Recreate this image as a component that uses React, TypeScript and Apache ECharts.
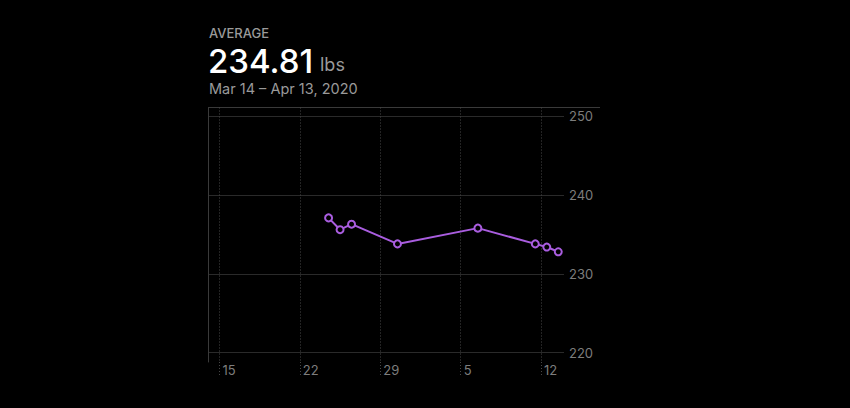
import React, { useEffect, useRef } from "react";
import * as echarts from "echarts";

// ---- data ----
const rangeStart = "2020-03-14";
const rangeEndExclusive = "2020-04-14";
const pointDates = [
  "2020-03-24",
  "2020-03-25",
  "2020-03-26",
  "2020-03-30",
  "2020-04-06",
  "2020-04-11",
  "2020-04-12",
  "2020-04-13",
];
const weights = [237.1, 235.6, 236.3, 233.8, 235.8, 233.8, 233.4, 232.8];
const tickDates = ["2020-03-15", "2020-03-22", "2020-03-29", "2020-04-05", "2020-04-12"];
const tickLabels = ["15", "22", "29", "5", "12"];
const yTicks = [220, 230, 240, 250];
const headerLabel = "AVERAGE";
const averageValue = "234.81";
const unitLabel = "lbs";
const rangeLabel = "Mar 14 – Apr 13, 2020";

const DAY = 86400000;
const dayOffset = (d: string) =>
  (Date.parse(d + "T00:00:00Z") - Date.parse(rangeStart + "T00:00:00Z")) / DAY;

const FONT = "Inter, 'Noto Sans', sans-serif";
const PURPLE = "#a95ddf";

export default function App() {
  const ref = useRef<HTMLDivElement>(null);
  useEffect(() => {
    if (!ref.current) return;
    const chart = echarts.init(ref.current, undefined, { renderer: "svg" });
    const tickVals = tickDates.map(dayOffset);
    const seriesData = pointDates.map((d, i) => [dayOffset(d) + 0.5, weights[i]]);
    const gridLeft = 208;
    const gridRight = 850 - 564;
    const gridTop = 107.5;
    const gridBottom = 408 - 362;
    const option: any = {
      animation: false,
      backgroundColor: "#000000",
      textStyle: { fontFamily: FONT },
      grid: { left: gridLeft, right: gridRight, top: gridTop, bottom: gridBottom, containLabel: false },
      xAxis: {
        type: "value",
        min: 0,
        max: dayOffset(rangeEndExclusive),
        axisLine: { show: false },
        axisTick: {
          show: true,
          customValues: tickVals,
          length: 15,
          lineStyle: { color: "#474747", type: [1, 2], width: 1 },
        },
        splitLine: {
          show: true,
          lineStyle: { color: "#474747", type: [1, 2], width: 1 },
        },
        axisLabel: {
          customValues: tickVals,
          formatter: (v: number) => {
            const i = tickVals.indexOf(v);
            return i >= 0 ? tickLabels[i] : "";
          },
          color: "#7d7d7d",
          fontSize: 13,
          fontFamily: FONT,
          align: "left",
          margin: 1,
          padding: [0, 0, 0, 3],
        },
      },
      yAxis: [
        {
          type: "value",
          position: "right",
          min: 218.82,
          max: 251.1,
          axisLine: { show: false },
          axisTick: { show: false, customValues: yTicks },
          axisLabel: {
            customValues: yTicks,
            color: "#7d7d7d",
            fontSize: 13,
            fontFamily: FONT,
            margin: 5,
          },
          splitLine: { show: true, lineStyle: { color: "#2a2a2a", width: 1 } },
        },
        {
          type: "value",
          position: "left",
          min: 218.82,
          max: 251.1,
          axisLine: { show: true, lineStyle: { color: "#3a3a3a", width: 1 } },
          axisTick: { show: false },
          axisLabel: { show: false },
          splitLine: { show: false },
        },
      ],
      graphic: [
        {
          type: "line",
          shape: { x1: gridLeft, y1: 107.5, x2: 600, y2: 107.5 },
          style: { stroke: "#3a3a3a", lineWidth: 1 },
          silent: true,
        },
        {
          type: "text",
          left: 209,
          top: 26,
          style: { text: headerLabel, fill: "#9a9a9a", font: `500 13px ${FONT}` },
        },
        {
          type: "text",
          left: 208,
          top: 44,
          style: { text: averageValue, fill: "#ffffff", font: `500 33px ${FONT}` },
        },
        {
          type: "text",
          left: 320,
          top: 55,
          style: { text: unitLabel, fill: "#9a9a9a", font: `400 18px ${FONT}` },
        },
        {
          type: "text",
          left: 209,
          top: 81,
          style: { text: rangeLabel, fill: "#9a9a9a", font: `400 14.5px ${FONT}` },
        },
      ],
      series: [
        {
          type: "line",
          data: seriesData,
          yAxisIndex: 0,
          symbol: "circle",
          symbolSize: 7,
          showAllSymbol: true,
          lineStyle: { color: PURPLE, width: 2 },
          itemStyle: { color: "#000000", borderColor: PURPLE, borderWidth: 2 },
        },
      ],
    };
    chart.setOption(option);
    return () => chart.dispose();
  }, []);
  return (
    <div
      ref={ref}
      style={{ position: "fixed", left: 0, top: 0, width: 850, height: 408, background: "#000" }}
    />
  );
}
